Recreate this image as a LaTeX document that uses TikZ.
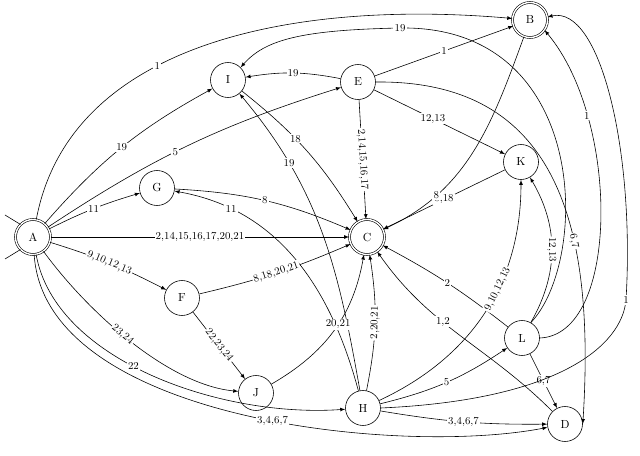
\documentclass[tikz,border=0pt]{standalone}
\usepackage{tikz}
\usetikzlibrary{arrows,automata}
\begin{document}
\begin{tikzpicture}[x=0.03cm, y=-0.03cm, line width=0.5pt, >=latex,
  st/.style={circle, draw, minimum size=1.05cm, inner sep=0pt},
  acc/.style={st, double, double distance=1.2pt},
  lbl/.style={fill=white, inner sep=1pt, font=\small}]
\useasboundingbox (0,0) rectangle (640,456);

\node[acc] (A) at (33,237) {A};
\node[acc] (B) at (530,20) {B};
\node[acc] (C) at (367,237) {C};
\node[st] (D) at (565,424) {D};
\node[st] (E) at (358,82) {E};
\node[st] (I) at (228,80) {I};
\node[st] (G) at (157,188) {G};
\node[st] (K) at (521,162) {K};
\node[st] (F) at (182,298) {F};
\node[st] (J) at (256,393) {J};
\node[st] (H) at (363,408) {H};
\node[st] (L) at (522,338) {L};
\coordinate (s1) at (5,215);
\coordinate (s2) at (5,259);
\draw (s1) -- (A.135);
\draw (s2) -- (A.-135);

% from A
\draw[->] (A) .. controls (70,40) and (300,0) .. node[lbl,pos=0.4] {1} (B);
\draw[->] (A) to[bend left=10] node[lbl] {19} (I);
\draw[->] (A) to[bend left=8] node[lbl,pos=0.45] {5} (E);
\draw[->] (A) to[bend left=5] node[lbl] {11} (G);
\draw[->] (A) -- node[lbl] {2,14,15,16,17,20,21} (C);
\draw[->] (A) to[bend left=5] node[lbl,sloped] {9,10,12,13} (F);
\draw[->] (A) .. controls (90,315) and (170,385) .. node[lbl,sloped,pos=0.45] {23,24} (J);
\draw[->] (A) .. controls (55,360) and (220,418) .. node[lbl,pos=0.45] {22} (H);
\draw[->] (A) .. controls (45,420) and (400,456) .. node[lbl,pos=0.55] {3,4,6,7} (D);

% from E
\draw[->] (E) -- node[lbl] {1} (B);
\draw[->] (E) to[bend right=10] node[lbl] {19} (I);
\draw[->] (E) -- node[lbl,sloped] {2,14,15,16,17} (C);
\draw[->] (E) -- node[lbl,pos=0.45] {12,13} (K);
\draw[->] (E.east) .. controls (560,80) and (595,230) .. node[lbl,sloped,pos=0.65] {6,7} (D.east);

% from L
\draw[->] (L.60) .. controls (590,260) and (590,25) .. (400,28)
  node[lbl] {19} .. controls (300,30) and (265,40) .. (I.45);
\draw[->] (L.east) .. controls (620,335) and (620,120) .. node[lbl,pos=0.75] {1} (B.-35);
\draw[->] (L) to[bend right=30] node[lbl,sloped] {12,13} (K);
\draw[->] (L) to[bend right=5] node[lbl] {2} (C);
\draw[->] (L) -- node[lbl] {6,7} (D);

% from H
\draw[->] (H) to[out=100,in=-50] node[lbl,pos=0.75] {19} (I);
\draw[->] (H) to[out=105,in=-10] node[lbl,pos=0.8] {11} (G);
\draw[->] (H) to[bend right=10] node[lbl,sloped] {2,20,21} (C);
\draw[->] (H) to[out=25,in=-90] node[lbl,sloped,pos=0.6] {9,10,12,13} (K);
\draw[->] (H) to[bend right=10] node[lbl] {5} (L);
\draw[->] (H) to[bend right=5] node[lbl] {3,4,6,7} (D);
\draw[->] (H.east) .. controls (560,400) and (622,345) .. (626,300) node[lbl] {1}
  .. controls (635,150) and (600,5) .. (B.10);

% the rest
\draw[->] (I) to[bend left=10] node[lbl,pos=0.4] {18} (C);
\draw[->] (G) to[bend left=10] node[lbl] {8} (C);
\draw[->] (F) to[bend right=5] node[lbl,sloped] {8,18,20,21} (C);
\draw[->] (F) -- node[lbl,sloped] {22,23,24} (J);
\draw[->] (J) to[out=30,in=-100] node[lbl,pos=0.55] {20,21} (C);
\draw[->] (K) -- node[lbl] {8,18} (C);
\draw[->] (B) to[out=-110,in=25] node[lbl,pos=0.75] {8} (C);
\draw[->] (D) to[out=135,in=-55] node[lbl,pos=0.6] {1,2} (C);
\end{tikzpicture}
\end{document}
